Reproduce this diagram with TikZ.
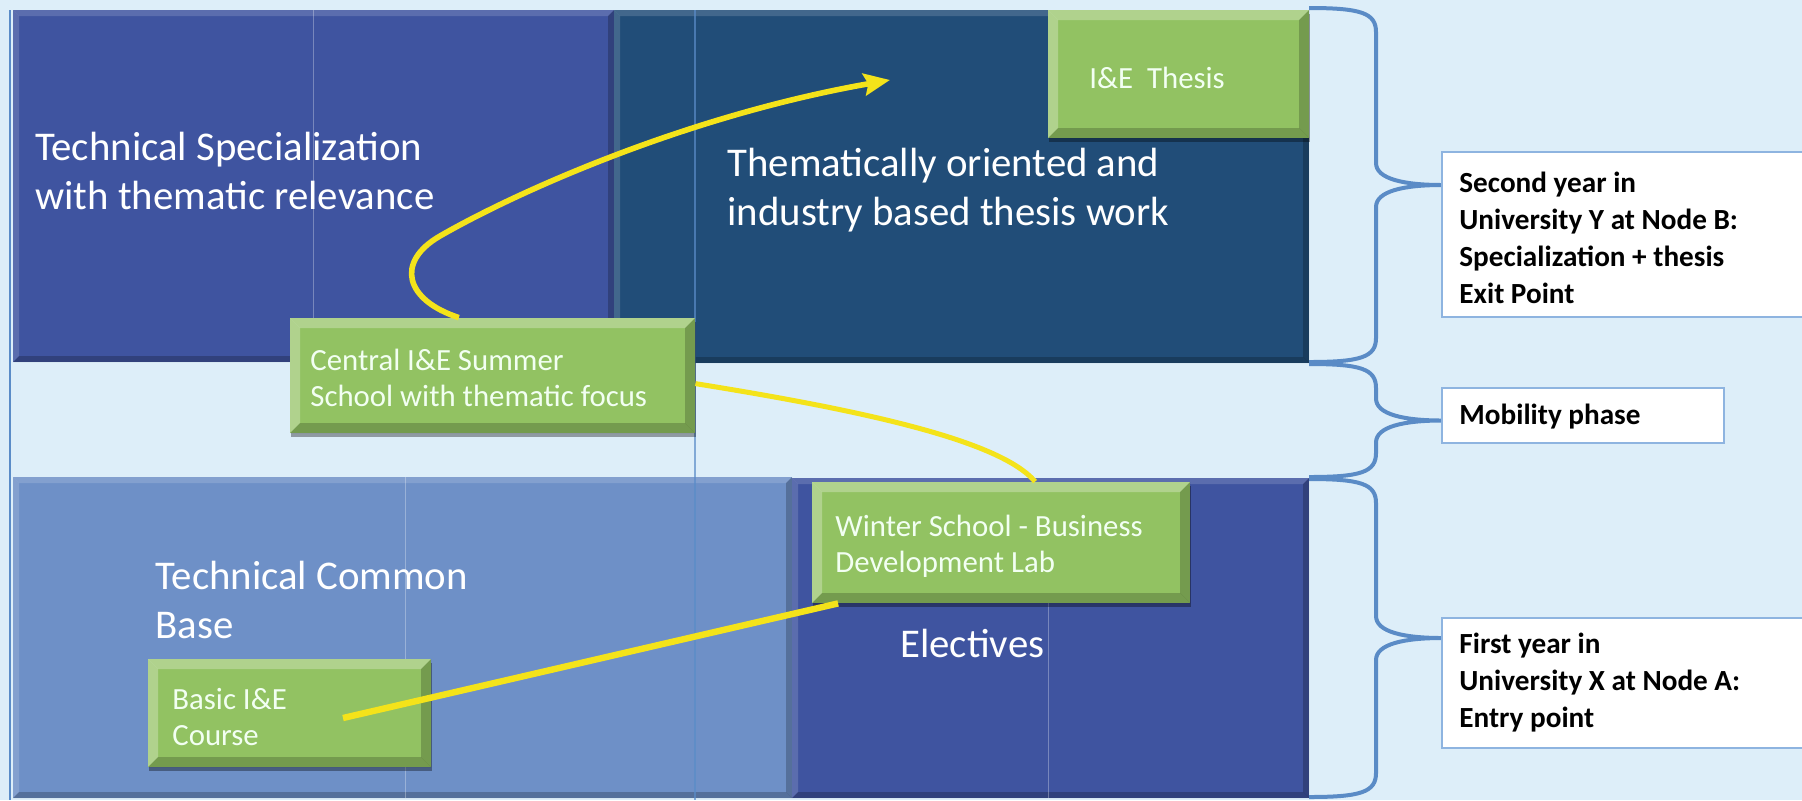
\documentclass[tikz,border=0pt]{standalone}
\usepackage{fontspec}
\setmainfont{Carlito}
\usetikzlibrary{arrows.meta,calc,fit,shadows}
\definecolor{bgc}{HTML}{DDEEF9}
\definecolor{tsblue}{HTML}{3F54A0}
\definecolor{tdark}{HTML}{214D78}
\definecolor{cbblue}{HTML}{6E90C7}
\definecolor{grn}{HTML}{92C262}
\definecolor{ylw}{HTML}{F4E31A}
\definecolor{brc}{HTML}{5A8BC6}
\definecolor{rbd}{HTML}{8EB4E0}
\definecolor{gridc}{HTML}{5A8CC8}
\newcommand\mybrace[4]{%
  \pgfmathsetmacro\brmid{(#2+#3)/2}%
  \draw[bracestyle] (#1,#2) .. controls ({#1+52},#2) and ({#1+67},{#2+5}) .. ({#1+67},{#2+24})
    -- ({#1+67},{\brmid-22}) .. controls ({#1+67},{\brmid-6}) and ({#1+95},\brmid) .. (#4,\brmid)
    .. controls ({#1+95},\brmid) and ({#1+67},{\brmid+6}) .. ({#1+67},{\brmid+22})
    -- ({#1+67},{#3-24}) .. controls ({#1+67},{#3-5}) and ({#1+52},#3) .. (#1,#3);}
\begin{document}
\begin{tikzpicture}[x=0.5pt,y=-0.5pt,
  bevel/.style n args={3}{path picture={
    \path (path picture bounding box.north west) coordinate (bnw)
          (path picture bounding box.north east) coordinate (bne)
          (path picture bounding box.south west) coordinate (bsw)
          (path picture bounding box.south east) coordinate (bse);
    \fill[white,opacity=#2] (bnw) -- (bne) -- ([shift={(-#1,-#1)}]bne) -- ([shift={(#1,-#1)}]bnw) -- cycle;
    \fill[white,opacity=#2] (bnw) -- (bsw) -- ([shift={(#1,#1)}]bsw) -- ([shift={(#1,-#1)}]bnw) -- cycle;
    \fill[black,opacity=#3] (bse) -- (bne) -- ([shift={(-#1,-#1)}]bne) -- ([shift={(-#1,#1)}]bse) -- cycle;
    \fill[black,opacity=#3] (bsw) -- (bse) -- ([shift={(-#1,#1)}]bse) -- ([shift={(#1,#1)}]bsw) -- cycle;
  }},
  blk/.style={inner sep=0pt, draw=none, bevel={3pt}{0.15}{0.22}},
  gbox/.style={inner sep=0pt, fill=grn, bevel={5pt}{0.28}{0.2},
    drop shadow={shadow xshift=0.5pt,shadow yshift=-2pt,opacity=0.35,fill=black}},
  bigtxt/.style={inner sep=0pt, anchor=west, align=left, text=white, font=\fontsize{20.4}{24.4}\selectfont},
  gtxt/.style={inner sep=0pt, anchor=west, align=left, text=white!95!green, font=\fontsize{15.4}{18.2}\selectfont},
  rbox/.style={inner sep=0pt, fill=white, draw=rbd, line width=1pt},
  rtxt/.style={inner sep=0pt, anchor=west, align=left, text=black, font=\bfseries\fontsize{14.6}{18.5}\selectfont},
  yl/.style={draw=ylw, line width=2.8pt},
  bracestyle/.style={draw=brc, line width=2pt, line join=round},
  gridline/.style={draw=gridc, line width=1pt},
  faint/.style={draw=white, opacity=0.3, line width=0.5pt}]

\useasboundingbox (0,0) rectangle (1802,800);
\fill[bgc] (0,0) rectangle (1802,800);

% large blocks
\node[blk, fill=tsblue, fit={(13,10) (614,362)}] (ts) {};
\node[blk, fill=tdark, fit={(614,10) (1309,363)}] (to) {};
\node[blk, fill=cbblue, fit={(13,477) (792,798)}] (cb) {};
\node[blk, fill=tsblue, fit={(792,478) (1309,798)}] (el) {};

% grid lines
\draw[gridline] (10,10) -- (10,800);
\draw[gridline, opacity=0.7] (695,10) -- (695,800);

% block labels
\node[bigtxt] (tsl) at (35,171) {Technical Specialization\\with thematic relevance};
\node[bigtxt] (tol) at (727,190) {Thematically oriented and\\industry based thesis work};
\node[bigtxt] (cbl) at (155,600) {Technical Common\\Base};
\node[bigtxt] (ell) at (900,643) {Electives};

\draw[faint] (313,10) -- (313,318);
\draw[faint] (405,477) -- (405,798);
\draw[faint] (1048,603) -- (1048,798);

% green boxes
\node[gbox, fit={(1048,10) (1309,138)}] (the) {};
\node[gtxt] (thet) at (1089,78) {I\&E~~Thesis};
\node[gbox, fit={(290,318) (695,433)}] (sum) {};
\node[gtxt] (sumt) at (310,378) {Central I\&E Summer\\School with thematic focus};
\node[gbox, fit={(812,482) (1190,603)}] (win) {};
\node[gtxt] (wint) at (835,546) {Winter School - Business\\Development Lab};
\node[gbox, fit={(148,659) (431,767)}] (bas) {};
\node[gtxt] (bast) at (172,717) {Basic I\&E\\Course};

% yellow connectors
\coordinate (a1s) at ($(sum.north west)!0.417!(sum.north east)$);
\coordinate (a1e) at (890,80);
\draw[yl, -{Stealth[length=13pt,width=11pt,inset=2pt]}] (a1s) .. controls (405,300) and (395,262) .. (440,236)
   .. controls (520,190) and (690,115) .. (a1e);
\coordinate (a2s) at ($(sum.north east)!0.57!(sum.south east)$);
\coordinate (a2e) at ($(win.north west)!0.59!(win.north east)$);
\draw[yl, line width=2.5pt] (a2s) .. controls (860,410) and (1000,440) .. (a2e);
\coordinate (a3s) at (343,718);
\coordinate (a3e) at ($(win.south west)!0.07!(win.south east)$);
\draw[yl, line width=3.2pt] (a3s) -- (a3e);

% braces
\mybrace{1309}{8}{362}{1442}
\mybrace{1309}{364}{477}{1442}
\mybrace{1309}{479}{797}{1442}

% right boxes
\node[rbox, fit={(1442,152) (1820,317)}] (sy) {};
\node[rtxt] (syt) at (1459,238) {Second year in\\University Y at Node B:\\Specialization + thesis\\Exit Point};
\node[rbox, fit={(1442,388) (1724,443)}] (mob) {};
\node[rtxt] (mobt) at (1459,417) {Mobility phase};
\node[rbox, fit={(1442,618) (1820,748)}] (fy) {};
\node[rtxt] (fyt) at (1459,683) {First year in\\University X at Node A:\\Entry point};
\end{tikzpicture}
\end{document}
